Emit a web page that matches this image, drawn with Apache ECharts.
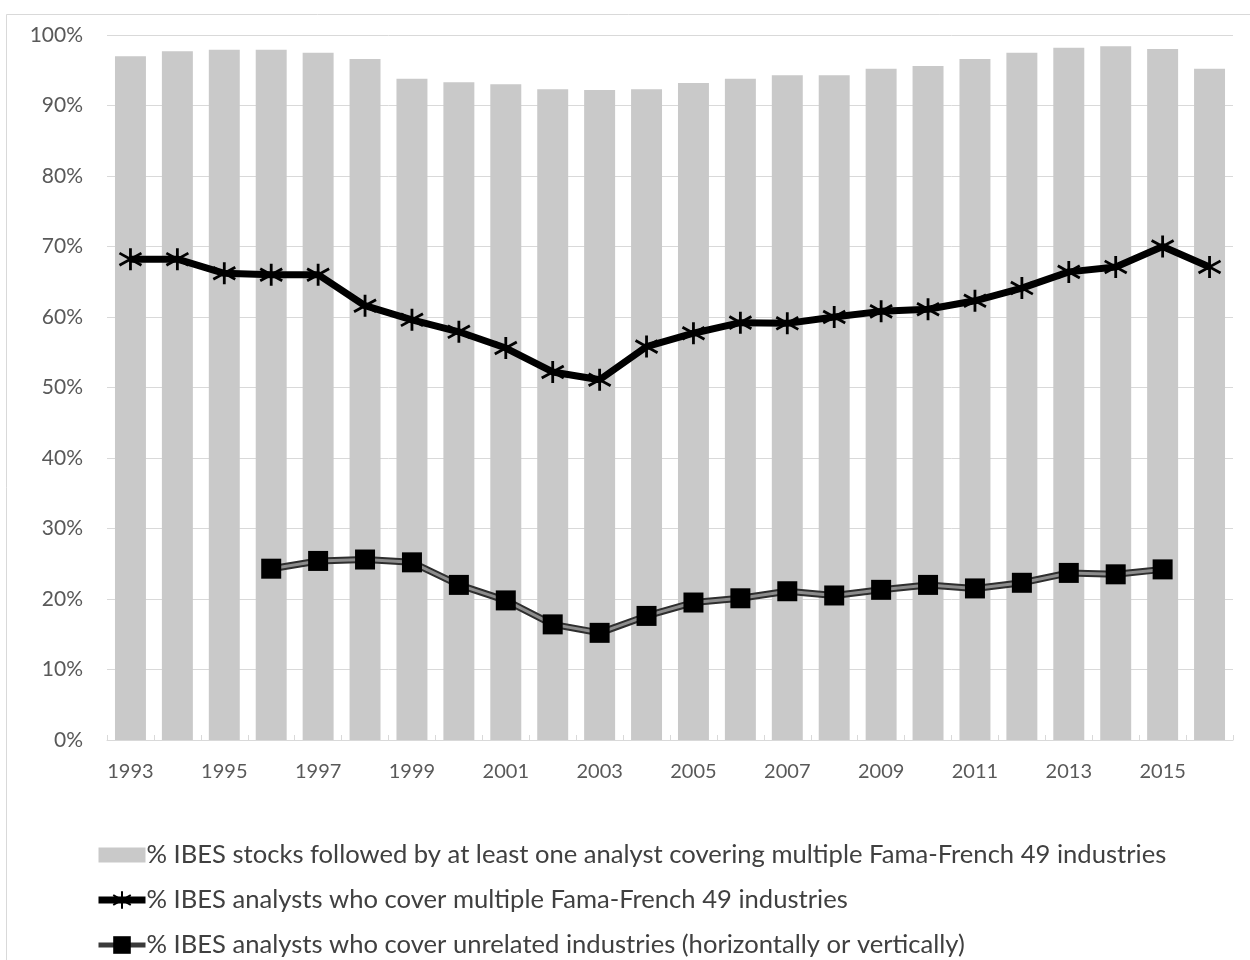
<!DOCTYPE html>
<html>
<head>
<meta charset="utf-8">
<script src="https://cdn.jsdelivr.net/npm/echarts@6/dist/echarts.min.js"></script>
<style>
  html, body { margin: 0; padding: 0; background: #fff; }
  #chart { width: 1250px; height: 960px; }
</style>
</head>
<body>
<div id="chart"></div>
<script>
// Years on the category axis
const years = ['1993','1994','1995','1996','1997','1998','1999','2000','2001','2002','2003','2004',
               '2005','2006','2007','2008','2009','2010','2011','2012','2013','2014','2015','2016'];

// % IBES stocks followed by at least one analyst covering multiple FF49 industries
const stocksFollowed = [97.0, 97.7, 97.9, 97.9, 97.5, 96.6, 93.8, 93.3, 93.0, 92.3, 92.2, 92.3,
                        93.2, 93.8, 94.3, 94.3, 95.2, 95.6, 96.6, 97.5, 98.2, 98.4, 98.0, 95.2];

// % IBES analysts who cover multiple FF49 industries
const multiIndustry = [68.2, 68.2, 66.2, 66.0, 66.0, 61.6, 59.6, 57.9, 55.6, 52.2, 51.1, 55.8,
                       57.7, 59.2, 59.1, 60.0, 60.8, 61.1, 62.3, 64.1, 66.4, 67.1, 70.0, 67.1];

// % IBES analysts who cover unrelated industries (series starts in 1996, ends in 2015)
const unrelated = [null, null, null, 24.3, 25.4, 25.6, 25.2, 22.0, 19.8, 16.4, 15.2, 17.6,
                   19.5, 20.1, 21.1, 20.5, 21.3, 22.0, 21.5, 22.3, 23.7, 23.5, 24.2, null];

const yTicks = { min: 0, max: 100, interval: 10 };

const nameBars = '% IBES stocks followed by at least one analyst covering multiple Fama-French 49 industries';
const nameMulti = '% IBES analysts who cover multiple Fama-French 49 industries';
const nameUnrel = '% IBES analysts who cover unrelated industries (horizontally or vertically)';

const FONT = 'Lato';
const asterisk = 'path://M10 0 L10 20 M1.5 4.5 L18.5 15.5 M1.5 15.5 L18.5 4.5';

const chart = echarts.init(document.getElementById('chart'), null, { renderer: 'canvas' });

chart.setOption({
  animation: false,
  backgroundColor: '#ffffff',
  textStyle: { fontFamily: FONT },
  graphic: [{
    type: 'rect',
    shape: { x: 6.5, y: 14.5, width: 1300, height: 1000 },
    style: { fill: 'none', stroke: '#d9d9d9', lineWidth: 1 },
    silent: true,
    z: -10
  }],
  grid: { left: 107, right: 17, top: 35, bottom: 220, containLabel: false },
  xAxis: {
    type: 'category',
    data: years,
    boundaryGap: true,
    axisLine: { lineStyle: { color: '#d9d9d9', width: 1 } },
    axisTick: { show: true, inside: true, length: 5, interval: 0, lineStyle: { color: '#d9d9d9' } },
    axisLabel: { interval: 1, margin: 22, color: '#595959', fontSize: 20, fontFamily: FONT },
    splitLine: { show: false }
  },
  yAxis: {
    type: 'value',
    min: yTicks.min, max: yTicks.max, interval: yTicks.interval,
    axisLine: { show: false },
    axisTick: { show: false },
    axisLabel: { formatter: '{value}%', margin: 24, color: '#595959', fontSize: 21, fontFamily: FONT },
    splitLine: { lineStyle: { color: '#d9d9d9', width: 1 } }
  },
  legend: {
    orient: 'vertical',
    left: 95,
    top: 842,
    padding: 0,
    height: 240,
    itemWidth: 47,
    itemHeight: 22,
    itemGap: 19,
    textStyle: { fontFamily: FONT, fontSize: 25.6, color: '#404040', lineHeight: 24, padding: [0, 0, 0, -4] },
    data: [
      { name: nameBars, icon: 'path://M0 0H47V15H0Z' },
      { name: nameMulti, lineStyle: { width: 7, color: '#000' } },
      { name: nameUnrel, lineStyle: { width: 5, color: '#3a3a3a' } }
    ]
  },
  series: [
    {
      name: nameBars,
      type: 'bar',
      data: stocksFollowed,
      barWidth: '66%',
      itemStyle: { color: '#c9c9c9' },
      z: 1
    },
    {
      name: nameMulti,
      type: 'line',
      data: multiIndustry,
      lineStyle: { color: '#000', width: 7 },
      symbol: asterisk,
      symbolSize: 22,
      itemStyle: { color: '#000', borderColor: '#000', borderWidth: 2.8 },
      z: 4
    },
    {
      // gray core of the double line, with the square markers
      name: nameUnrel,
      type: 'line',
      data: unrelated,
      connectNulls: false,
      lineStyle: { color: '#8c8c8c', width: 3 },
      symbol: 'rect',
      symbolSize: 20,
      itemStyle: { color: '#000', borderColor: '#000', borderWidth: 0 },
      z: 3
    },
    {
      // dark outline under the gray core
      name: nameUnrel,
      type: 'line',
      data: unrelated,
      lineStyle: { color: '#2e2e2e', width: 7 },
      symbol: 'none',
      z: 2
    }
  ]
});
</script>
</body>
</html>
